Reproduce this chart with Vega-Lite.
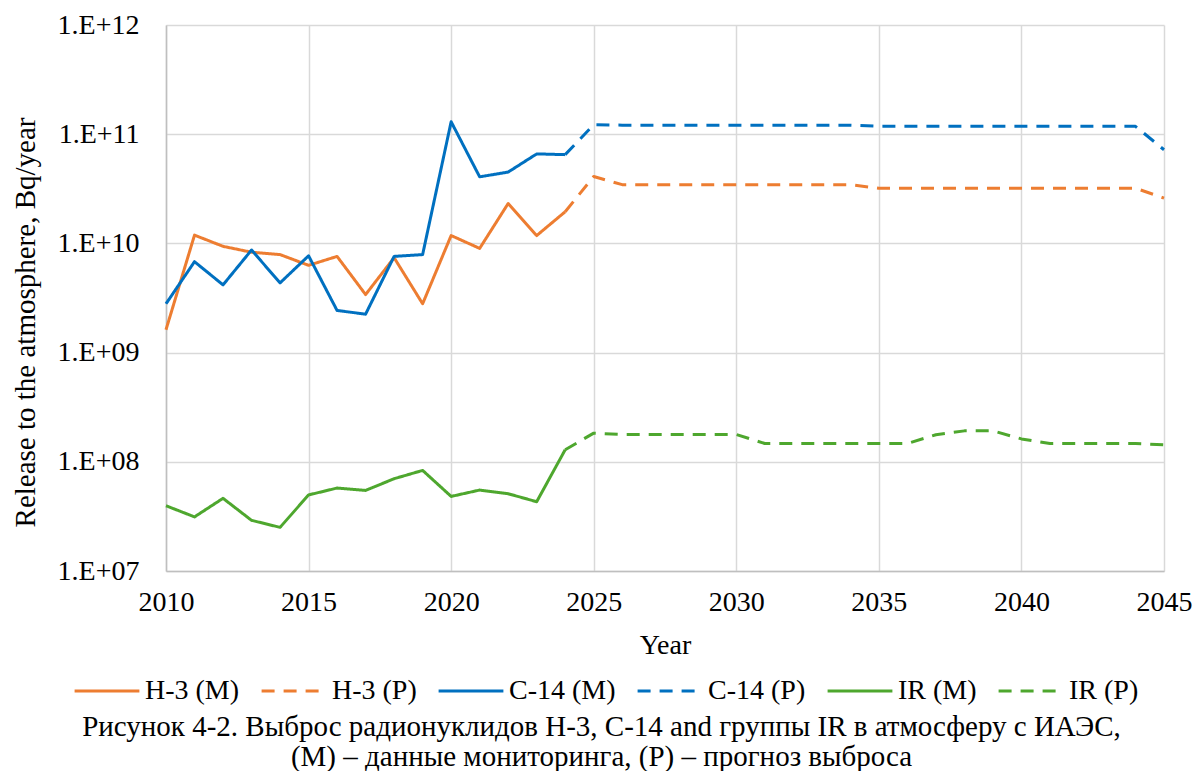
{
  "$schema": "https://vega.github.io/schema/vega-lite/v6.json",
  "autosize": {"type": "none"},
  "width": 998,
  "height": 546,
  "padding": {"left": 166, "top": 25, "right": 40, "bottom": 200},
  "background": "white",
  "config": {
    "font": "Liberation Serif",
    "view": {"stroke": null},
    "axis": {"labelFont": "Liberation Serif", "titleFont": "Liberation Serif", "labelColor": "black", "titleColor": "black", "titleFontWeight": "normal"},
    "legend": {"labelFont": "Liberation Serif", "labelColor": "black"}
  },
  "title": {
    "text": ["Рисунок 4-2. Выброс радионуклидов H-3, C-14 and группы IR в атмосферу с ИАЭС,", "(M) – данные мониторинга, (P) – прогноз выброса"],
    "orient": "bottom",
    "anchor": "middle",
    "frame": "bounds",
    "font": "Liberation Serif",
    "fontSize": 29,
    "fontWeight": "normal",
    "lineHeight": 30,
    "color": "black",
    "offset": 8
  },
  "data": {
    "values": [
      {"year": 2010, "value": 1.62e9, "series": "H-3 (M)"},
      {"year": 2011, "value": 1.19e10, "series": "H-3 (M)"},
      {"year": 2012, "value": 9.4e9, "series": "H-3 (M)"},
      {"year": 2013, "value": 8.3e9, "series": "H-3 (M)"},
      {"year": 2014, "value": 7.9e9, "series": "H-3 (M)"},
      {"year": 2015, "value": 6.3e9, "series": "H-3 (M)"},
      {"year": 2016, "value": 7.6e9, "series": "H-3 (M)"},
      {"year": 2017, "value": 3.4e9, "series": "H-3 (M)"},
      {"year": 2018, "value": 7.4e9, "series": "H-3 (M)"},
      {"year": 2019, "value": 2.8e9, "series": "H-3 (M)"},
      {"year": 2020, "value": 1.18e10, "series": "H-3 (M)"},
      {"year": 2021, "value": 9.0e9, "series": "H-3 (M)"},
      {"year": 2022, "value": 2.32e10, "series": "H-3 (M)"},
      {"year": 2023, "value": 1.18e10, "series": "H-3 (M)"},
      {"year": 2024, "value": 1.95e10, "series": "H-3 (M)"},

      {"year": 2024, "value": 1.95e10, "series": "H-3 (P)"},
      {"year": 2025, "value": 4.1e10, "series": "H-3 (P)"},
      {"year": 2026, "value": 3.45e10, "series": "H-3 (P)"},
      {"year": 2027, "value": 3.45e10, "series": "H-3 (P)"},
      {"year": 2028, "value": 3.45e10, "series": "H-3 (P)"},
      {"year": 2029, "value": 3.45e10, "series": "H-3 (P)"},
      {"year": 2030, "value": 3.45e10, "series": "H-3 (P)"},
      {"year": 2031, "value": 3.45e10, "series": "H-3 (P)"},
      {"year": 2032, "value": 3.45e10, "series": "H-3 (P)"},
      {"year": 2033, "value": 3.45e10, "series": "H-3 (P)"},
      {"year": 2034, "value": 3.45e10, "series": "H-3 (P)"},
      {"year": 2035, "value": 3.2e10, "series": "H-3 (P)"},
      {"year": 2036, "value": 3.2e10, "series": "H-3 (P)"},
      {"year": 2037, "value": 3.2e10, "series": "H-3 (P)"},
      {"year": 2038, "value": 3.2e10, "series": "H-3 (P)"},
      {"year": 2039, "value": 3.2e10, "series": "H-3 (P)"},
      {"year": 2040, "value": 3.2e10, "series": "H-3 (P)"},
      {"year": 2041, "value": 3.2e10, "series": "H-3 (P)"},
      {"year": 2042, "value": 3.2e10, "series": "H-3 (P)"},
      {"year": 2043, "value": 3.2e10, "series": "H-3 (P)"},
      {"year": 2044, "value": 3.2e10, "series": "H-3 (P)"},
      {"year": 2045, "value": 2.6e10, "series": "H-3 (P)"},

      {"year": 2010, "value": 2.8e9, "series": "C-14 (M)"},
      {"year": 2011, "value": 6.8e9, "series": "C-14 (M)"},
      {"year": 2012, "value": 4.17e9, "series": "C-14 (M)"},
      {"year": 2013, "value": 8.7e9, "series": "C-14 (M)"},
      {"year": 2014, "value": 4.35e9, "series": "C-14 (M)"},
      {"year": 2015, "value": 7.7e9, "series": "C-14 (M)"},
      {"year": 2016, "value": 2.43e9, "series": "C-14 (M)"},
      {"year": 2017, "value": 2.25e9, "series": "C-14 (M)"},
      {"year": 2018, "value": 7.6e9, "series": "C-14 (M)"},
      {"year": 2019, "value": 7.9e9, "series": "C-14 (M)"},
      {"year": 2020, "value": 1.3e11, "series": "C-14 (M)"},
      {"year": 2021, "value": 4.07e10, "series": "C-14 (M)"},
      {"year": 2022, "value": 4.5e10, "series": "C-14 (M)"},
      {"year": 2023, "value": 6.6e10, "series": "C-14 (M)"},
      {"year": 2024, "value": 6.5e10, "series": "C-14 (M)"},

      {"year": 2024, "value": 6.5e10, "series": "C-14 (P)"},
      {"year": 2025, "value": 1.22e11, "series": "C-14 (P)"},
      {"year": 2026, "value": 1.21e11, "series": "C-14 (P)"},
      {"year": 2027, "value": 1.21e11, "series": "C-14 (P)"},
      {"year": 2028, "value": 1.21e11, "series": "C-14 (P)"},
      {"year": 2029, "value": 1.21e11, "series": "C-14 (P)"},
      {"year": 2030, "value": 1.21e11, "series": "C-14 (P)"},
      {"year": 2031, "value": 1.21e11, "series": "C-14 (P)"},
      {"year": 2032, "value": 1.21e11, "series": "C-14 (P)"},
      {"year": 2033, "value": 1.21e11, "series": "C-14 (P)"},
      {"year": 2034, "value": 1.21e11, "series": "C-14 (P)"},
      {"year": 2035, "value": 1.18e11, "series": "C-14 (P)"},
      {"year": 2036, "value": 1.18e11, "series": "C-14 (P)"},
      {"year": 2037, "value": 1.18e11, "series": "C-14 (P)"},
      {"year": 2038, "value": 1.18e11, "series": "C-14 (P)"},
      {"year": 2039, "value": 1.18e11, "series": "C-14 (P)"},
      {"year": 2040, "value": 1.18e11, "series": "C-14 (P)"},
      {"year": 2041, "value": 1.18e11, "series": "C-14 (P)"},
      {"year": 2042, "value": 1.18e11, "series": "C-14 (P)"},
      {"year": 2043, "value": 1.18e11, "series": "C-14 (P)"},
      {"year": 2044, "value": 1.18e11, "series": "C-14 (P)"},
      {"year": 2045, "value": 7.2e10, "series": "C-14 (P)"},

      {"year": 2010, "value": 3.96e7, "series": "IR (M)"},
      {"year": 2011, "value": 3.13e7, "series": "IR (M)"},
      {"year": 2012, "value": 4.63e7, "series": "IR (M)"},
      {"year": 2013, "value": 2.91e7, "series": "IR (M)"},
      {"year": 2014, "value": 2.51e7, "series": "IR (M)"},
      {"year": 2015, "value": 4.97e7, "series": "IR (M)"},
      {"year": 2016, "value": 5.75e7, "series": "IR (M)"},
      {"year": 2017, "value": 5.47e7, "series": "IR (M)"},
      {"year": 2018, "value": 7.0e7, "series": "IR (M)"},
      {"year": 2019, "value": 8.34e7, "series": "IR (M)"},
      {"year": 2020, "value": 4.82e7, "series": "IR (M)"},
      {"year": 2021, "value": 5.51e7, "series": "IR (M)"},
      {"year": 2022, "value": 5.1e7, "series": "IR (M)"},
      {"year": 2023, "value": 4.31e7, "series": "IR (M)"},
      {"year": 2024, "value": 1.29e8, "series": "IR (M)"},

      {"year": 2024, "value": 1.29e8, "series": "IR (P)"},
      {"year": 2025, "value": 1.83e8, "series": "IR (P)"},
      {"year": 2026, "value": 1.78e8, "series": "IR (P)"},
      {"year": 2027, "value": 1.78e8, "series": "IR (P)"},
      {"year": 2028, "value": 1.78e8, "series": "IR (P)"},
      {"year": 2029, "value": 1.78e8, "series": "IR (P)"},
      {"year": 2030, "value": 1.78e8, "series": "IR (P)"},
      {"year": 2031, "value": 1.47e8, "series": "IR (P)"},
      {"year": 2032, "value": 1.47e8, "series": "IR (P)"},
      {"year": 2033, "value": 1.47e8, "series": "IR (P)"},
      {"year": 2034, "value": 1.47e8, "series": "IR (P)"},
      {"year": 2035, "value": 1.47e8, "series": "IR (P)"},
      {"year": 2036, "value": 1.47e8, "series": "IR (P)"},
      {"year": 2037, "value": 1.77e8, "series": "IR (P)"},
      {"year": 2038, "value": 1.92e8, "series": "IR (P)"},
      {"year": 2039, "value": 1.92e8, "series": "IR (P)"},
      {"year": 2040, "value": 1.62e8, "series": "IR (P)"},
      {"year": 2041, "value": 1.47e8, "series": "IR (P)"},
      {"year": 2042, "value": 1.47e8, "series": "IR (P)"},
      {"year": 2043, "value": 1.47e8, "series": "IR (P)"},
      {"year": 2044, "value": 1.47e8, "series": "IR (P)"},
      {"year": 2045, "value": 1.43e8, "series": "IR (P)"}
    ]
  },
  "mark": {"type": "line", "strokeWidth": 3, "strokeCap": "butt", "strokeJoin": "round"},
  "encoding": {
    "x": {
      "field": "year",
      "type": "quantitative",
      "scale": {"domain": [2010, 2045], "nice": false, "zero": false},
      "axis": {
        "title": "Year",
        "values": [2010, 2015, 2020, 2025, 2030, 2035, 2040, 2045],
        "format": "d",
        "labelFontSize": 28,
        "labelPadding": 17,
        "labelFlush": false,
        "labelOverlap": false,
        "titleFontSize": 28,
        "titleBaseline": "middle",
        "titleY": 74,
        "ticks": false,
        "grid": true,
        "gridColor": "#d9d9d9",
        "gridWidth": 1.5,
        "domainColor": "#bfbfbf",
        "domainWidth": 1.5
      }
    },
    "y": {
      "field": "value",
      "type": "quantitative",
      "scale": {"type": "log", "domain": [1e7, 1e12], "nice": false},
      "axis": {
        "title": "Release to the atmosphere, Bq/year",
        "values": [1e7, 1e8, 1e9, 1e10, 1e11, 1e12],
        "labelExpr": "'1.E+' + (round(log(datum.value)/LN10) < 10 ? '0' : '') + round(log(datum.value)/LN10)",
        "labelFontSize": 28,
        "labelPadding": 27,
        "labelFlush": false,
        "labelOverlap": false,
        "titleFontSize": 29,
        "titleAngle": -90,
        "titleAlign": "center",
        "titleBaseline": "middle",
        "titleX": -141,
        "titleY": 297,
        "ticks": false,
        "grid": true,
        "gridColor": "#d9d9d9",
        "gridWidth": 1.5,
        "domainColor": "#bfbfbf",
        "domainWidth": 1.5
      }
    },
    "color": {
      "field": "series",
      "type": "nominal",
      "scale": {
        "domain": ["H-3 (M)", "H-3 (P)", "C-14 (M)", "C-14 (P)", "IR (M)", "IR (P)"],
        "range": ["#ED7D31", "#ED7D31", "#0070C0", "#0070C0", "#4EA72E", "#4EA72E"]
      },
      "legend": {
        "title": null,
        "orient": "none",
        "legendX": -93,
        "legendY": 632,
        "direction": "horizontal",
        "columns": 6,
        "symbolType": "stroke",
        "symbolSize": 4200,
        "symbolStrokeWidth": 3,
        "labelFontSize": 28,
        "labelOffset": 4,
        "columnPadding": 15
      }
    },
    "strokeDash": {
      "field": "series",
      "type": "nominal",
      "scale": {
        "domain": ["H-3 (M)", "H-3 (P)", "C-14 (M)", "C-14 (P)", "IR (M)", "IR (P)"],
        "range": [[1, 0], [13, 9], [1, 0], [13, 9], [1, 0], [13, 9]]
      },
      "legend": {
        "title": null,
        "orient": "none",
        "legendX": -93,
        "legendY": 632,
        "direction": "horizontal",
        "columns": 6,
        "symbolType": "stroke",
        "symbolSize": 4200,
        "symbolStrokeWidth": 3,
        "labelFontSize": 28,
        "labelOffset": 4,
        "columnPadding": 15
      }
    }
  }
}
